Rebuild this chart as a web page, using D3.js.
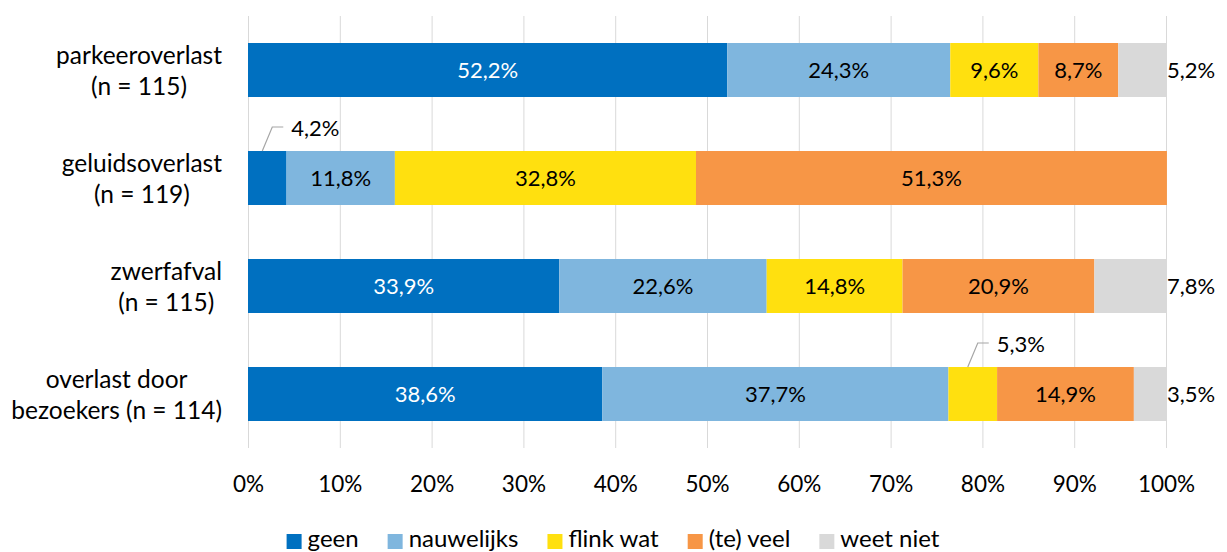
<!DOCTYPE html>
<html>
<head>
<meta charset="utf-8">
<script src="https://cdn.jsdelivr.net/npm/d3@7"></script>
<style>
  body { margin: 0; background: #fff; }
  svg text { font-family: Lato, "Open Sans", sans-serif; fill: #000; }
</style>
</head>
<body>
<div id="chart"></div>
<script>
const categories = [
    ['parkeeroverlast', '(n = 115)'],
    ['geluidsoverlast', '(n = 119)'],
    ['zwerfafval', '(n = 115)'],
    ['overlast door', 'bezoekers (n = 114)']
];
const seriesNames = ['geen', 'nauwelijks', 'flink wat', '(te) veel', 'weet niet'];
const geen       = [52.2, 4.2, 33.9, 38.6];
const nauwelijks = [24.3, 11.8, 22.6, 37.7];
const flinkWat   = [9.6, 32.8, 14.8, 5.3];
const teVeel     = [8.7, 51.3, 20.9, 14.9];
const weetNiet   = [5.2, 0, 7.8, 3.5];
const xTicks = [0, 10, 20, 30, 40, 50, 60, 70, 80, 90, 100];

const colors = ['#0070c0', '#7fb6de', '#ffe00f', '#f79646', '#d9d9d9'];
const labelColors = ['#fff', '#000', '#000', '#000', '#000'];

function drawChart() {
    const width = 1227, height = 552;
    const margin = { left: 248, right: 61, top: 16, bottom: 104 };

    const svg = d3.select('#chart').append('svg')
        .attr('width', width)
        .attr('height', height);

    const x = d3.scaleLinear().domain([0, 100]).range([margin.left, width - margin.right]);
    const y = d3.scaleBand().domain(d3.range(categories.length))
        .range([margin.top, height - margin.bottom])
        .paddingInner(0.5).paddingOuter(0.25);

    // gridlines
    svg.append('g').selectAll('line').data(xTicks).join('line')
        .attr('x1', d => x(d) + 0.5).attr('x2', d => x(d) + 0.5)
        .attr('y1', margin.top).attr('y2', height - margin.bottom)
        .attr('stroke', '#d9d9d9').attr('stroke-width', 1);

    // axis
    const axis = svg.append('g')
        .attr('transform', `translate(0,${height - margin.bottom})`)
        .call(d3.axisBottom(x).tickValues(xTicks).tickFormat(d => d + '%').tickSize(0).tickPadding(28));
    axis.select('.domain').remove();
    axis.selectAll('text').style('font-size', '22.5px').style('font-family', 'Lato');

    const table = categories.map((c, i) => ({
        i: i,
        geen: geen[i], nauwelijks: nauwelijks[i], 'flink wat': flinkWat[i],
        '(te) veel': teVeel[i], 'weet niet': weetNiet[i]
    }));
    const stacked = d3.stack().keys(seriesNames)(table);

    const fmt = v => v.toFixed(1).replace('.', ',') + '%';

    stacked.forEach((layer, k) => {
        const g = svg.append('g');
        g.selectAll('rect').data(layer.filter(d => d[1] > d[0])).join('rect')
            .attr('x', d => x(d[0]))
            .attr('width', d => x(d[1]) - x(d[0]))
            .attr('y', d => y(d.data.i))
            .attr('height', y.bandwidth())
            .attr('fill', colors[k]);
    });

    // data labels
    stacked.forEach((layer, k) => {
        layer.forEach(d => {
            const v = d[1] - d[0];
            if (v <= 0) return;
            const cy = y(d.data.i) + y.bandwidth() / 2;
            const small = v < 6 && k < 4;
            if (k === 4) {
                svg.append('text')
                    .attr('x', x(100) + 1).attr('y', cy)
                    .attr('dy', '0.35em').style('font-size', '22px')
                    .text(fmt(v));
            } else if (small) {
                const top = y(d.data.i);
                const bx = x(d[0]) + (x(d[1]) - x(d[0])) / 2 - 5;
                svg.append('polyline')
                    .attr('points', `${bx},${top} ${bx + 10},${top - 24} ${bx + 21},${top - 24}`)
                    .attr('fill', 'none').attr('stroke', '#a6a6a6').attr('stroke-width', 1.2);
                svg.append('text')
                    .attr('x', bx + 29).attr('y', top - 23)
                    .attr('dy', '0.35em').style('font-size', '22px')
                    .text(fmt(v));
            } else {
                svg.append('text')
                    .attr('x', (x(d[0]) + x(d[1])) / 2).attr('y', cy)
                    .attr('dy', '0.35em').attr('text-anchor', 'middle')
                    .style('font-size', '22px').style('fill', labelColors[k])
                    .text(fmt(v));
            }
        });
    });

    // category labels
    categories.forEach((lines, i) => {
        const cy = y(i) + y.bandwidth() / 2;
        const g = svg.append('g');
        const texts = lines.map((t, j) => g.append('text')
            .attr('y', cy + (j === 0 ? -15 : 16))
            .attr('dy', '0.35em').attr('text-anchor', 'middle')
            .style('font-size', '24.5px').text(t));
        const w = d3.max(texts, t => t.node().getComputedTextLength());
        texts.forEach(t => t.attr('x', 222 - w / 2));
    });

    // legend
    const legend = svg.append('g');
    let lx = 0;
    seriesNames.forEach((name, k) => {
        legend.append('rect').attr('x', lx).attr('y', 534).attr('width', 15).attr('height', 15)
            .attr('fill', colors[k]);
        const t = legend.append('text').attr('x', lx + 21).attr('y', 547)
            .style('font-size', '24px').text(name);
        lx += 21 + t.node().getComputedTextLength() + 29;
    });
    const lw = lx - 29;
    legend.attr('transform', `translate(${613 - lw / 2},0)`);
}

drawChart();
</script>
</body>
</html>
